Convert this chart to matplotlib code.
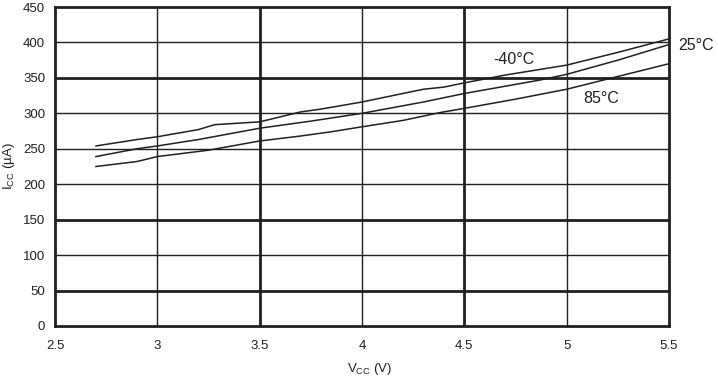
import matplotlib
matplotlib.use("Agg")
import matplotlib.pyplot as plt

plt.rcParams['font.family'] = ['Liberation Sans', 'DejaVu Sans']

vcc_m40 = [2.7, 2.9, 3.0, 3.2, 3.28, 3.5, 3.6, 3.7, 3.8, 4.0, 4.2, 4.3, 4.4, 4.5, 4.7, 5.0, 5.25, 5.5]
icc_m40 = [254, 263, 267, 277, 284, 288, 295, 302, 306, 316, 328, 334, 337, 343, 354, 368, 386, 405]

vcc_25 = [2.7, 2.9, 3.0, 3.2, 3.5, 3.75, 4.0, 4.3, 4.5, 4.87, 5.0, 5.25, 5.5]
icc_25 = [239, 250, 254, 263, 279, 289, 300, 316, 328, 347, 355, 375, 397]

vcc_85 = [2.7, 2.9, 3.0, 3.25, 3.5, 3.7, 3.85, 4.0, 4.2, 4.38, 4.5, 4.75, 5.0, 5.25, 5.5]
icc_85 = [225, 232, 239, 248, 261, 268, 274, 281, 290, 301, 307, 320, 334, 352, 370]

x_ticks = [2.5, 3, 3.5, 4, 4.5, 5, 5.5]
x_tick_labels = ['2.5', '3', '3.5', '4', '4.5', '5', '5.5']
y_ticks = [0, 50, 100, 150, 200, 250, 300, 350, 400, 450]
thick_x = [3.5, 4.5]
thin_x = [3, 4, 5]
thick_y = [50, 150, 350]
thin_y = [100, 200, 250, 300, 400]

labels = ['-40°C', '25°C', '85°C']
label_pos = [(4.74, 376), (5.63, 396), (5.17, 321)]

gc = '#231f20'
fig = plt.figure(figsize=(7.18, 3.79), dpi=100)
ax = fig.add_axes([55/718, 1-326/379, 614/718, 319/379])
ax.set_xlim(2.5, 5.5)
ax.set_ylim(0, 450)

for xv in thin_x:
    ax.axvline(xv, color=gc, lw=1.0, zorder=1)
for xv in thick_x:
    ax.axvline(xv, color=gc, lw=2.0, zorder=1)
for yv in thin_y:
    ax.axhline(yv, color=gc, lw=1.0, zorder=1)
for yv in thick_y:
    ax.axhline(yv, color=gc, lw=2.0, zorder=1)

for xs, ys in [(vcc_m40, icc_m40), (vcc_25, icc_25), (vcc_85, icc_85)]:
    ax.plot(xs, ys, color=gc, lw=1.1, zorder=3)

for lab, (lx, ly) in zip(labels, label_pos):
    ax.text(lx, ly, lab, fontsize=11.5, ha='center', va='center', color=gc, clip_on=False)

for s in ax.spines.values():
    s.set_linewidth(2.0)
    s.set_color(gc)

ax.set_xticks(x_ticks)
ax.set_xticklabels(x_tick_labels)
ax.set_yticks(y_ticks)
ax.tick_params(axis='both', length=0, labelsize=9.5, colors=gc)
ax.tick_params(axis='x', pad=10)
ax.tick_params(axis='y', pad=7)

ax.set_xlabel('V$_{\\mathregular{CC}}$ (V)', fontsize=9.5, color=gc)
ax.set_ylabel('I$_{\\mathregular{CC}}$ (µA)', fontsize=9.5, color=gc)
ax.xaxis.set_label_coords((370 - 55) / 614, (326 - 369) / 319)
ax.yaxis.set_label_coords((9 - 55) / 614, (326 - 166) / 319)
ax.xaxis.label.set_va('center')
ax.yaxis.label.set_va('center')

fig.savefig('out.png', dpi=100)
